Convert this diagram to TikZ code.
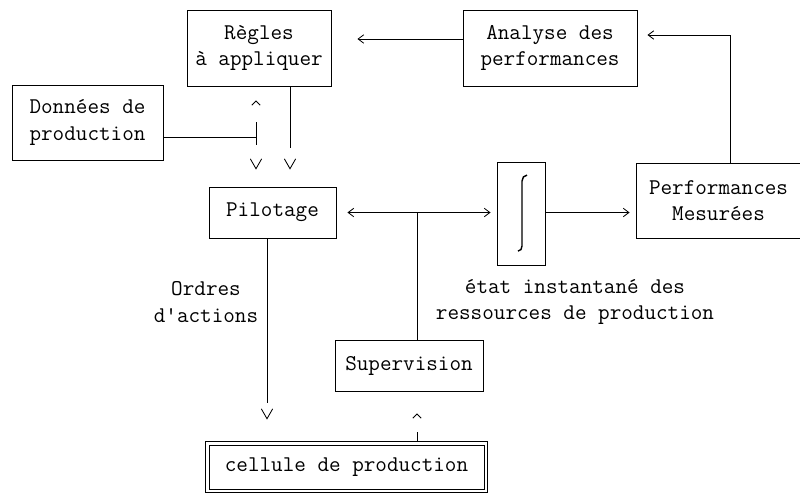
\documentclass[tikz,border=0pt]{standalone}
\usetikzlibrary{arrows.meta}

\begin{document}
\begin{tikzpicture}[
        font=\ttfamily\fontsize{16}{19}\selectfont,
        line width=0.6pt,
        box/.style={rectangle, draw, align=center, inner sep=2pt},
        vtip/.style={-{Straight Barb[length=7pt, width=8pt]}},
        uptip/.style={-{Straight Barb[length=3pt, width=6pt]}},
        htip/.style={-{Straight Barb[length=4pt, width=6pt]}},
        hboth/.style={{Straight Barb[length=4pt, width=6pt]}-{Straight Barb[length=4pt, width=6pt]}}
    ]
        \useasboundingbox (0,0) rectangle (20,-12.325);

        \node[box, minimum width=3.6cm, minimum height=1.9cm] (regles) at (6.475,-1.2) {Règles\\à appliquer};
        \node[box, minimum width=4.35cm, minimum height=1.9cm] (analyse) at (13.75,-1.2) {Analyse des\\performances};
        \node[box, minimum width=3.775cm, minimum height=1.875cm] (donnees) at (2.1875,-3.0625) {Données de\\production};
        \node[box, minimum width=3.175cm, minimum height=1.275cm] (pilotage) at (6.8125,-5.3125) {Pilotage};
        \node[box, minimum width=1.2cm, minimum height=2.575cm] (integ) at (13.025,-5.3375) {};
        \node[box, minimum width=4.125cm, minimum height=1.875cm] (perf) at (17.9625,-5.0125) {Performances\\Mesurées};
        \node[box, minimum width=3.7cm, minimum height=1.275cm] (superv) at (10.225,-9.1375) {Supervision};
        \node[box, minimum width=6.875cm, minimum height=1.1cm] (cellule) at (8.6625,-11.675) {cellule de production};
        \draw ([shift={(-0.075cm,0.075cm)}]cellule.north west) rectangle ([shift={(0.075cm,-0.075cm)}]cellule.south east);

        \node[align=center] (ordres) at (5.15,-7.55) {Ordres\\d'actions};
        \node[align=center] (etat) at (14.375,-7.55) {état instantané des\\ressources de production};

        % integrale
        \draw[line width=1pt] ([shift={(0.15,0.96)}]integ.center) to[out=180,in=90] ++(-0.125,-0.15)
            -- ++(0,-1.625) to[out=-90,in=0] ++(-0.1,-0.125);

        \coordinate (jD) at (6.4,-3.425);

        \draw[htip, shorten >=0.65cm] ([yshift=0.225cm]analyse.west) -- ([yshift=0.225cm]regles.east);
        \draw[htip, shorten >=0.25cm] ([xshift=0.29cm]perf.north) |- ([yshift=0.325cm]analyse.east);
        \draw[vtip, shorten >=0.425cm, dash pattern=on 1.55cm off 5cm]
            ([xshift=0.775cm]regles.south) -- ([xshift=0.775cm]regles.south |- pilotage.north);
        \draw (donnees.east |- jD) -- (jD);
        \draw[{Straight Barb[length=3pt, width=6pt]}-{Straight Barb[length=7pt, width=8pt]},
            shorten <=0.35cm, shorten >=0.425cm, dash pattern=on 0pt off 0.525cm on 0.575cm off 5cm]
            (regles.south -| jD) -- (pilotage.north -| jD);
        \draw[hboth, shorten <=0.275cm, shorten >=0.15cm] (pilotage.east) -- (pilotage.east -| integ.west);
        \draw[htip, shorten >=0.15cm] (integ.east |- pilotage.east) -- (perf.west |- pilotage.east);
        \draw ([xshift=0.2cm]superv.north) -- ([xshift=0.2cm]superv.north |- pilotage.east);
        \draw[vtip, shorten >=0.625cm, dash pattern=on 4.125cm off 5cm]
            ([xshift=-0.1375cm]pilotage.south) -- ([xshift=-0.1375cm]pilotage.south |- cellule.north);
        \draw[uptip, shorten <=0.075cm, shorten >=0.55cm, dash pattern=on 0.25cm off 5cm]
            ([xshift=1.7625cm]cellule.north) -- ([xshift=1.7625cm]cellule.north |- superv.south);
    \end{tikzpicture}
\end{document}
